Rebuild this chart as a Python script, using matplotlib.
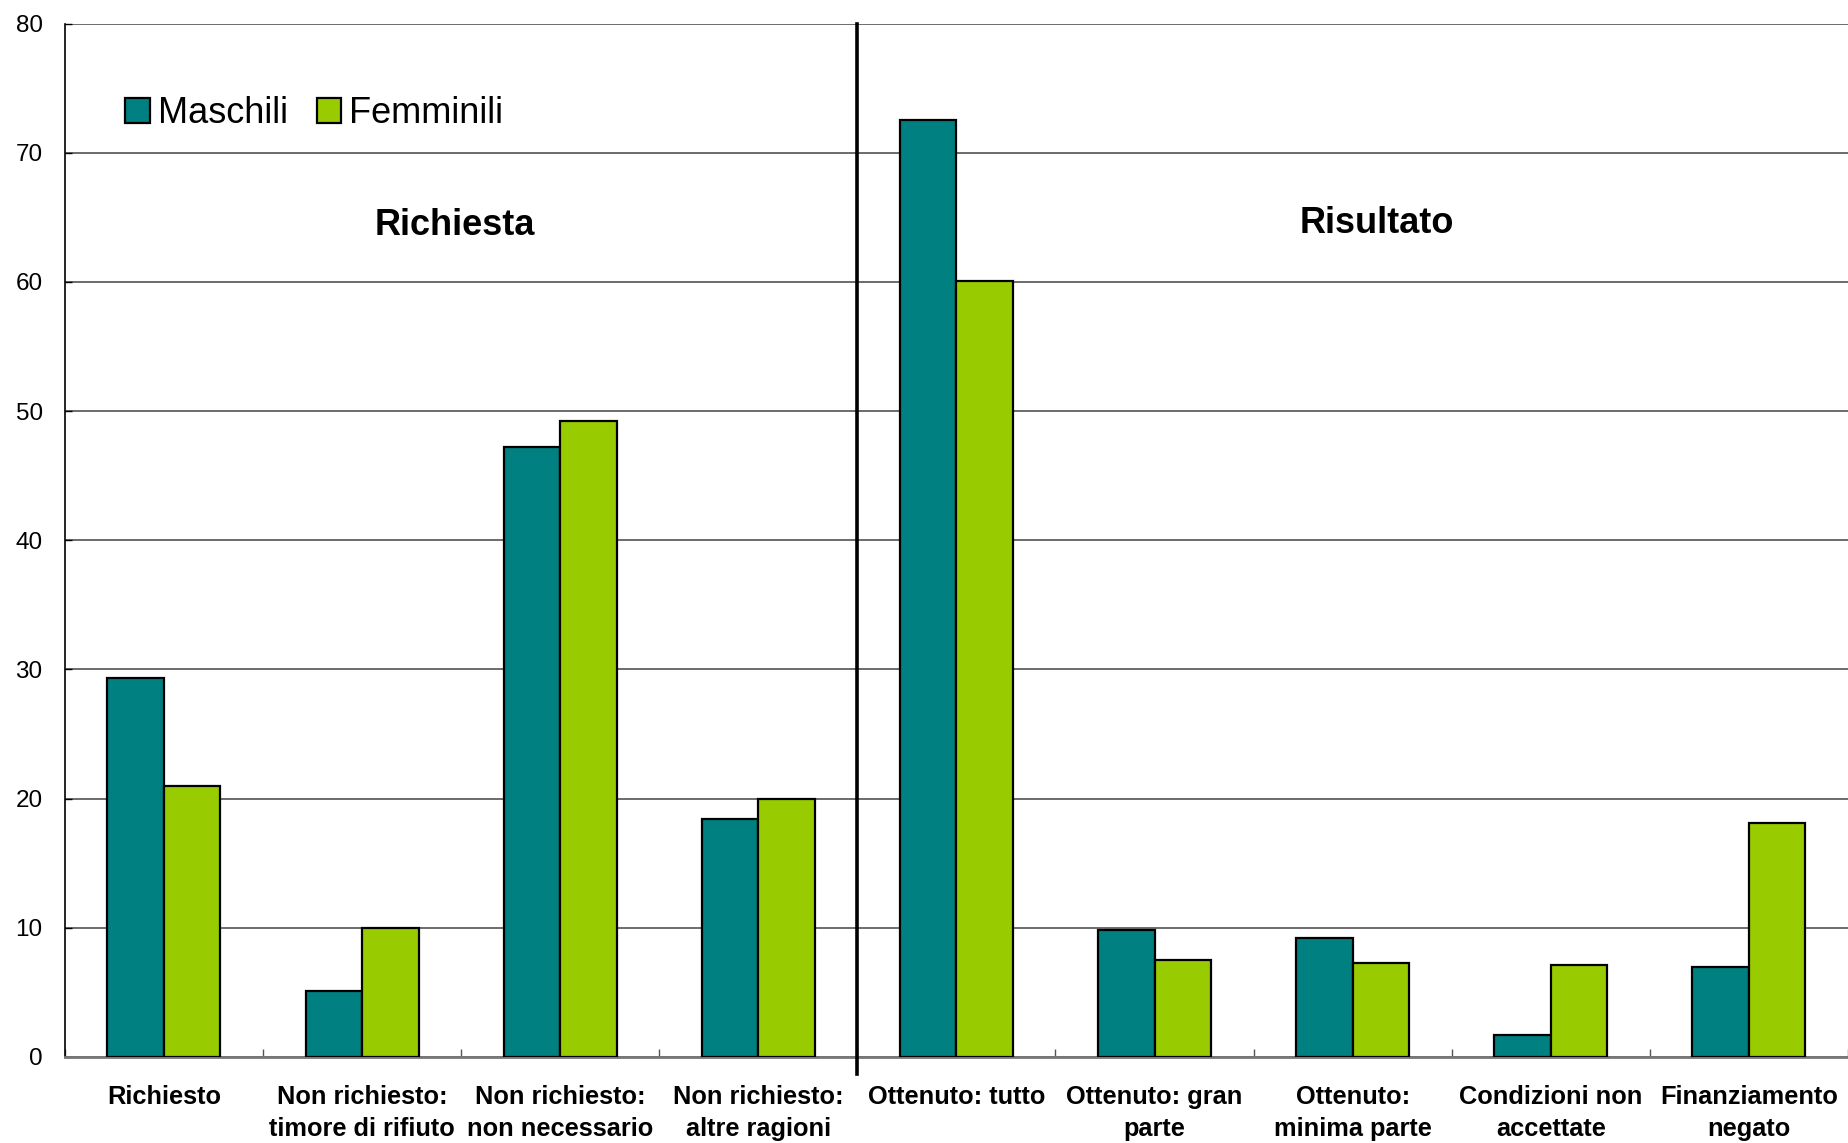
import matplotlib
matplotlib.use("Agg")
import matplotlib.pyplot as plt
import numpy as np

plt.rcParams["font.family"] = ["Liberation Sans", "DejaVu Sans"]

# --- data -----------------------------------------------------------------
CATEGORIES = [
    "Richiesto",
    "Non richiesto:\ntimore di rifiuto",
    "Non richiesto:\nnon necessario",
    "Non richiesto:\naltre ragioni",
    "Ottenuto: tutto",
    "Ottenuto: gran\nparte",
    "Ottenuto:\nminima parte",
    "Condizioni non\naccettate",
    "Finanziamento\nnegato",
]
MASCHILI = [29.3, 5.1, 47.2, 18.4, 72.5, 9.8, 9.2, 1.7, 7.0]
FEMMINILI = [21.0, 10.0, 49.2, 20.0, 60.1, 7.5, 7.3, 7.1, 18.1]
N_RICHIESTA = 4  # first group: Richiesta, rest: Risultato
Y_TICKS = [0, 10, 20, 30, 40, 50, 60, 70, 80]

COL_M = "#008080"
COL_F = "#99CC00"

# --- plot -----------------------------------------------------------------
fig = plt.figure(figsize=(18.48, 11.43), dpi=100)
ax = fig.add_axes([0.0351, 0.0753, 0.9649, 0.9041])

x = np.arange(len(CATEGORIES))
w = 0.285
ax.bar(x - w / 2, MASCHILI, w, color=COL_M, edgecolor="black",
       linewidth=1.6, label="Maschili", zorder=3)
ax.bar(x + w / 2, FEMMINILI, w, color=COL_F, edgecolor="black",
       linewidth=1.6, label="Femminili", zorder=3)

ax.set_xlim(-0.5, len(CATEGORIES) - 0.5)
ax.set_ylim(0, 80)
ax.set_yticks(Y_TICKS)
ax.set_yticklabels([str(t) for t in Y_TICKS], fontsize=17.5)
ax.tick_params(axis="y", direction="in", length=5, width=1, pad=16)

ax.set_xticks(x)
ax.set_xticklabels(CATEGORIES, fontsize=18.3, fontweight="bold", linespacing=1.45)
ax.set_xticks(np.arange(len(CATEGORIES) + 1) - 0.5, minor=True)
ax.tick_params(axis="x", which="major", length=0, pad=20)
ax.tick_params(axis="x", which="minor", direction="in", length=6,
               width=1, color="#555555")

ax.grid(axis="y", color="#444444", linewidth=1.1, zorder=0)
ax.set_axisbelow(True)
for s in ("top", "right"):
    ax.spines[s].set_visible(False)
ax.spines["left"].set_color("black")
ax.spines["left"].set_linewidth(1.2)
ax.spines["bottom"].set_color("#777777")
ax.spines["bottom"].set_linewidth(2)

# divider between the two groups
xd = N_RICHIESTA - 0.5
ax.plot([xd, xd], [-1.3, 80], color="black", linewidth=2.6,
        clip_on=False, zorder=4)

# group titles
ax.text(1.47, 64.4, "Richiesta", ha="center", va="center",
        fontsize=26, fontweight="bold")
ax.text(6.12, 64.5, "Risultato", ha="center", va="center",
        fontsize=26, fontweight="bold")

ax.legend(loc="upper left", bbox_to_anchor=(0.034, 0.930), ncol=2,
          frameon=False, fontsize=26, handlelength=0.68, handleheight=0.68,
          handletextpad=0.22, columnspacing=0.8, borderpad=0, borderaxespad=0)

fig.savefig("out.png", dpi=100)
